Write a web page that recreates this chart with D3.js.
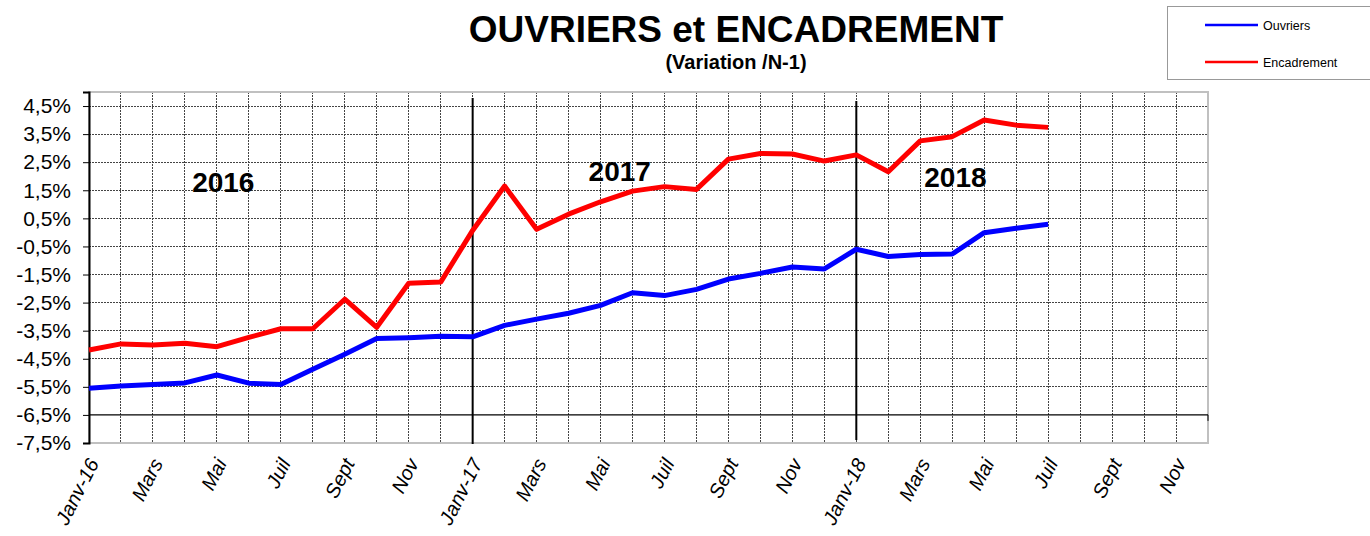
<!DOCTYPE html>
<html>
<head>
<meta charset="utf-8">
<script src="https://cdn.jsdelivr.net/npm/d3@7"></script>
<style>
  html, body { margin: 0; padding: 0; background: #fff; }
  svg { display: block; font-family: "Liberation Sans", Arial, sans-serif; }
</style>
</head>
<body>
<svg id="chart" width="1370" height="536"></svg>
<script>
// ---- DATA ----
const months = ["Janv-16","Févr","Mars","Avr","Mai","Juin","Juil","Août","Sept","Oct","Nov","Déc",
                "Janv-17","Févr","Mars","Avr","Mai","Juin","Juil","Août","Sept","Oct","Nov","Déc",
                "Janv-18","Févr","Mars","Avr","Mai","Juin","Juil","Août","Sept","Oct","Nov","Déc"];
const xTickLabels = ["Janv-16","Mars","Mai","Juil","Sept","Nov",
                     "Janv-17","Mars","Mai","Juil","Sept","Nov",
                     "Janv-18","Mars","Mai","Juil","Sept","Nov"];
const ouvriers = [-5.55,-5.47,-5.42,-5.36,-5.08,-5.37,-5.42,-4.87,-4.34,-3.78,-3.75,-3.70,
                  -3.72,-3.31,-3.09,-2.88,-2.60,-2.15,-2.25,-2.03,-1.66,-1.46,-1.23,-1.30,
                  -0.60,-0.86,-0.79,-0.77,-0.01,0.15,0.29];
const encadrement = [-4.19,-3.97,-4.01,-3.95,-4.07,-3.74,-3.43,-3.43,-2.38,-3.38,-1.81,-1.77,
                     0.07,1.65,0.11,0.65,1.09,1.47,1.63,1.53,2.61,2.81,2.79,2.54,
                     2.76,2.16,3.26,3.41,4.00,3.82,3.74];
const yTicks = [4.5,3.5,2.5,1.5,0.5,-0.5,-1.5,-2.5,-3.5,-4.5,-5.5,-6.5,-7.5];
const yTickLabels = ["4,5%","3,5%","2,5%","1,5%","0,5%","-0,5%","-1,5%","-2,5%","-3,5%","-4,5%","-5,5%","-6,5%","-7,5%"];
const yearLabels = ["2016","2017","2018"];
const yearLabelPos = [[4.2, 1.45],[16.6, 1.83],[27.1, 1.6]]; // [month index, value]
const yearDividers = [12, 24];
const seriesNames = ["Ouvriers","Encadrement"];
const seriesColors = ["#0000ff","#ff0000"];

// ---- LAYOUT ----
const svg = d3.select("#chart");
const L = 89, R = 1208, T = 92, B = 443;
const x = d3.scaleLinear().domain([0, 35]).range([L, R]);
const y = d3.scaleLinear().domain([-7.5, 5.0]).range([B, T]);

// Title
svg.append("text").attr("x", 736).attr("y", 42).attr("text-anchor", "middle")
  .attr("font-size", 37).attr("font-weight", "bold").text("OUVRIERS et ENCADREMENT");
svg.append("text").attr("x", 736).attr("y", 69).attr("text-anchor", "middle")
  .attr("font-size", 20).attr("font-weight", "bold").text("(Variation /N-1)");

// Vertical gridlines (every month)
svg.append("g").selectAll("line").data(d3.range(1, 35)).join("line")
  .attr("x1", d => x(d)).attr("x2", d => x(d))
  .attr("y1", T).attr("y2", B)
  .attr("stroke", "#444").attr("stroke-width", 1).attr("stroke-dasharray", "2,1")
  .attr("shape-rendering", "crispEdges");

// Horizontal gridlines
svg.append("g").selectAll("line").data(yTicks.filter(v => v > -6.5)).join("line")
  .attr("x1", L).attr("x2", R)
  .attr("y1", d => y(d)).attr("y2", d => y(d))
  .attr("stroke", "#444").attr("stroke-width", 1).attr("stroke-dasharray", "2,1")
  .attr("shape-rendering", "crispEdges");

// Plot border (grey)
svg.append("rect").attr("x", L).attr("y", T).attr("width", R - L).attr("height", B - T)
  .attr("fill", "none").attr("stroke", "#c0c0c0").attr("stroke-width", 2);

// Category axis at -6.5
svg.append("line").attr("x1", L).attr("x2", R).attr("y1", y(-6.5)).attr("y2", y(-6.5))
  .attr("stroke", "#000").attr("stroke-width", 1.2);
svg.append("line").attr("x1", R).attr("x2", R).attr("y1", y(-6.5)).attr("y2", y(-6.5) + 6)
  .attr("stroke", "#000").attr("stroke-width", 1);

// Year dividers
svg.append("g").selectAll("line").data(yearDividers).join("line")
  .attr("x1", d => x(d)).attr("x2", d => x(d))
  .attr("y1", (d, i) => i === 0 ? 98 : 101).attr("y2", (d, i) => i === 0 ? B + 1 : 440)
  .attr("stroke", "#000").attr("stroke-width", 2);

// Y axis
const yAxis = d3.axisLeft(y).tickValues(yTicks)
  .tickFormat((d, i) => yTickLabels[i]).tickSize(6).tickPadding(12);
const gy = svg.append("g").attr("transform", `translate(${L},0)`).call(yAxis);
gy.select(".domain").attr("stroke", "#000").attr("stroke-width", 2);
gy.selectAll(".tick line").attr("stroke", "#000");
gy.selectAll(".tick text").attr("font-size", 21).attr("fill", "#000")
  .attr("font-family", "Liberation Sans, Arial, sans-serif");

// X axis labels
const xAxis = d3.axisBottom(x).tickValues(d3.range(0, 36, 2))
  .tickFormat((d, i) => xTickLabels[i]).tickSize(0);
const gx = svg.append("g").attr("transform", `translate(0,${B})`).call(xAxis);
gx.select(".domain").remove();
gx.selectAll(".tick text")
  .attr("font-size", 20).attr("font-style", "italic").attr("fill", "#000")
  .attr("font-family", "Liberation Sans, Arial, sans-serif")
  .attr("text-anchor", "end").attr("dy", null).attr("y", 0)
  .attr("transform", "translate(10,20) rotate(-63)");

// Lines
const line = d3.line().x((d, i) => x(i)).y(d => y(d));
[ouvriers, encadrement].forEach((s, k) => {
  svg.append("path").datum(s).attr("d", line)
    .attr("fill", "none").attr("stroke", seriesColors[k]).attr("stroke-width", 5)
    .attr("stroke-linejoin", "round");
});

// Year labels
svg.append("g").selectAll("text").data(yearLabels).join("text")
  .attr("x", (d, i) => x(yearLabelPos[i][0])).attr("y", (d, i) => y(yearLabelPos[i][1]))
  .attr("text-anchor", "middle").attr("font-size", 28).attr("font-weight", "bold")
  .text(d => d);

// Legend
const lg = svg.append("g");
lg.append("rect").attr("x", 1167.5).attr("y", 6.5).attr("width", 220).attr("height", 73)
  .attr("fill", "#fff").attr("stroke", "#999").attr("stroke-width", 1);
seriesNames.forEach((n, i) => {
  const ly = 25 + i * 37;
  lg.append("line").attr("x1", 1205).attr("x2", 1258).attr("y1", ly).attr("y2", ly)
    .attr("stroke", seriesColors[i]).attr("stroke-width", 2.5);
  lg.append("text").attr("x", 1263).attr("y", ly + 4.5).attr("font-size", 12.5).text(n);
});
</script>
</body>
</html>
